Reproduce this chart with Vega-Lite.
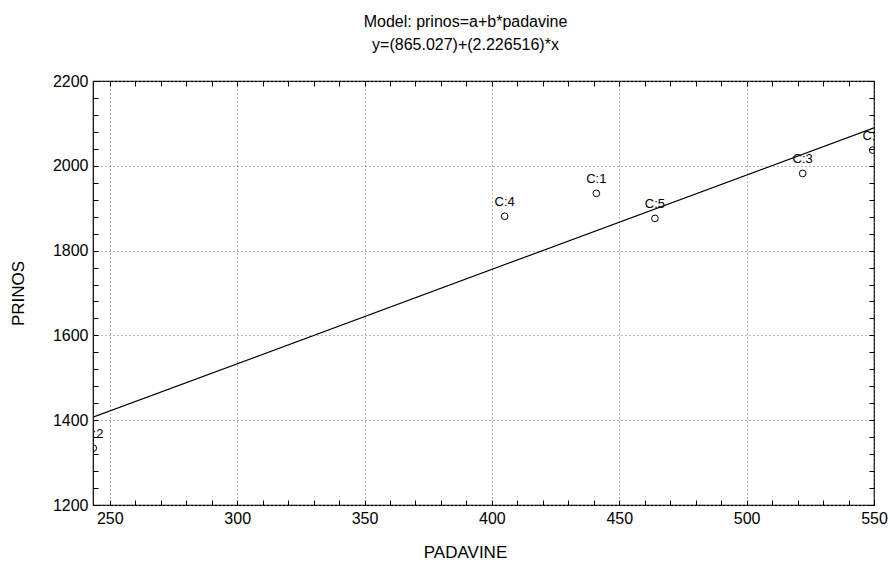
{
  "$schema": "https://vega.github.io/schema/vega-lite/v6.json",
  "autosize": "none",
  "width": 781,
  "height": 424,
  "padding": {"left": 93, "top": 81, "right": 16, "bottom": 58},
  "background": "white",
  "config": {
    "font": "Liberation Sans",
    "view": {"stroke": "black", "strokeWidth": 1.2},
    "axis": {"labelFont": "Liberation Sans", "titleFont": "Liberation Sans"}
  },
  "title": {
    "text": ["Model: prinos=a+b*padavine", "y=(865.027)+(2.226516)*x"],
    "fontSize": 16,
    "fontWeight": "normal",
    "lineHeight": 23,
    "anchor": "middle",
    "dx": -18,
    "offset": 20,
    "color": "black"
  },
  "datasets": {
    "pts": [
      {"padavine": 441, "prinos": 1935, "label": "C:1"},
      {"padavine": 243.5, "prinos": 1334, "label": "C:2"},
      {"padavine": 522, "prinos": 1982, "label": "C:3"},
      {"padavine": 405, "prinos": 1881, "label": "C:4"},
      {"padavine": 464, "prinos": 1876, "label": "C:5"},
      {"padavine": 549.5, "prinos": 2037, "label": "C:6"}
    ],
    "fit": [
      {"padavine": 243.4, "prinos": 1406.96},
      {"padavine": 550, "prinos": 2089.61}
    ]
  },
  "resolve": {"axis": {"x": "independent", "y": "independent"}},
  "layer": [
    {
      "data": {"name": "pts"},
      "mark": {"type": "point", "shape": "circle", "filled": false, "size": 45, "stroke": "black", "strokeWidth": 1, "opacity": 1, "clip": true},
      "encoding": {
        "x": {
          "field": "padavine", "type": "quantitative",
          "scale": {"domain": [243.4, 550], "nice": false, "zero": false},
          "axis": {
            "orient": "bottom",
            "title": "PADAVINE",
            "titleFontSize": 17,
            "titleFontWeight": "normal",
            "titleColor": "black",
            "titlePadding": 18,
            "titleX": 372,
            "format": "d",
            "values": [250,260,270,280,290,300,310,320,330,340,350,360,370,380,390,400,410,420,430,440,450,460,470,480,490,500,510,520,530,540,550],
            "labelExpr": "datum.value % 50 == 0 ? datum.label : ''",
            "labelOverlap": false,
            "labelFlush": false,
            "labelFontSize": 16,
            "labelColor": "black",
            "labelPadding": 10,
            "tickSize": -5,
            "tickWidth": 1,
            "tickColor": "black",
            "domain": false,
            "grid": true,
            "gridColor": "#707070",
            "gridDash": [1, 3],
            "gridOpacity": {"condition": {"test": "datum.value % 50 != 0", "value": 0}, "value": 1}
          }
        },
        "y": {
          "field": "prinos", "type": "quantitative",
          "scale": {"domain": [1200, 2200], "nice": false, "zero": false},
          "axis": {
            "orient": "left",
            "title": "PRINOS",
            "titleFontSize": 17,
            "titleFontWeight": "normal",
            "titleColor": "black",
            "titlePadding": 25,
            "format": "d",
            "values": [1200,1240,1280,1320,1360,1400,1440,1480,1520,1560,1600,1640,1680,1720,1760,1800,1840,1880,1920,1960,2000,2040,2080,2120,2160,2200],
            "labelExpr": "datum.value % 200 == 0 ? datum.label : ''",
            "labelOverlap": false,
            "labelFlush": false,
            "labelFontSize": 16,
            "labelColor": "black",
            "labelPadding": 10,
            "tickSize": -5,
            "tickWidth": 1,
            "tickColor": "black",
            "domain": false,
            "grid": true,
            "gridColor": "#707070",
            "gridDash": [1, 3],
            "gridOpacity": {"condition": {"test": "datum.value % 200 != 0", "value": 0}, "value": 1}
          }
        }
      }
    },
    {
      "data": {"name": "pts"},
      "mark": {"type": "text", "align": "center", "baseline": "alphabetic", "dy": -10, "fontSize": 13, "color": "black", "clip": true},
      "encoding": {
        "x": {"field": "padavine", "type": "quantitative", "axis": null},
        "y": {"field": "prinos", "type": "quantitative", "axis": null},
        "text": {"field": "label"}
      }
    },
    {
      "data": {"name": "fit"},
      "mark": {"type": "line", "color": "black", "strokeWidth": 1.2, "clip": true},
      "encoding": {
        "x": {
          "field": "padavine", "type": "quantitative",
          "axis": {
            "orient": "top", "title": null, "labels": false, "grid": false, "domain": false,
            "tickSize": -5, "tickWidth": 1, "tickColor": "black",
            "values": [250,260,270,280,290,300,310,320,330,340,350,360,370,380,390,400,410,420,430,440,450,460,470,480,490,500,510,520,530,540,550]
          }
        },
        "y": {
          "field": "prinos", "type": "quantitative",
          "axis": {
            "orient": "right", "title": null, "labels": false, "grid": false, "domain": false,
            "tickSize": -5, "tickWidth": 1, "tickColor": "black",
            "values": [1200,1240,1280,1320,1360,1400,1440,1480,1520,1560,1600,1640,1680,1720,1760,1800,1840,1880,1920,1960,2000,2040,2080,2120,2160,2200]
          }
        }
      }
    }
  ]
}
